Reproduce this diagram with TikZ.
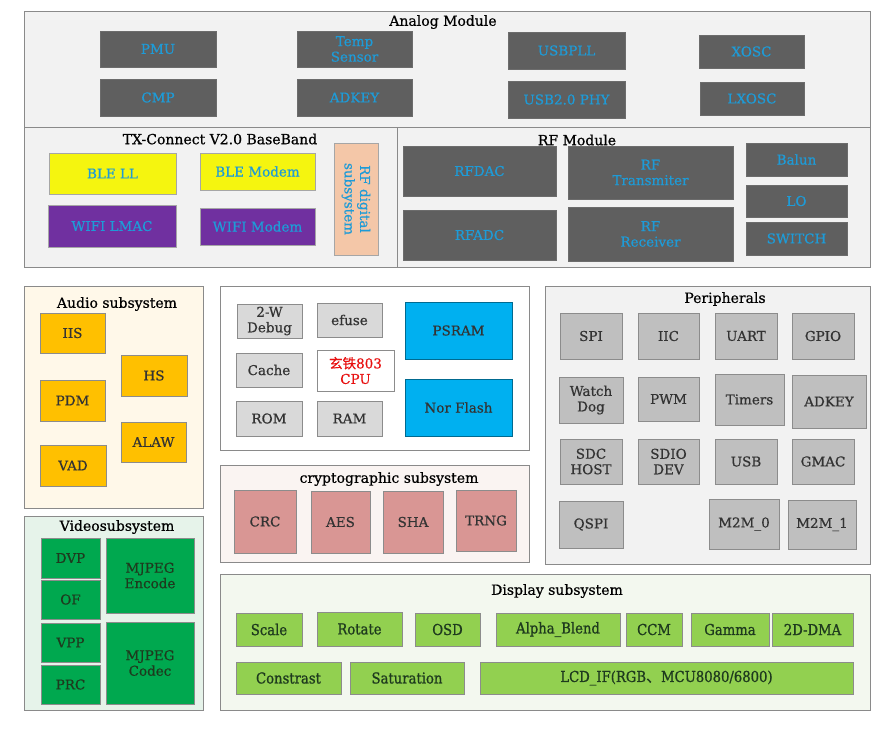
\documentclass[tikz,border=0pt]{standalone}
\usepackage{fontspec}
\setmainfont[FakeBold=0.6]{DejaVu Serif}
\newfontfamily\cjk[FakeBold=0.4]{Noto Sans CJK SC}
\newfontfamily\dispfont[FakeStretch=0.88,FakeBold=1.0]{DejaVu Serif}
\definecolor{obg}{HTML}{F2F2F2}
\definecolor{oline}{HTML}{8A8A8A}
\definecolor{darkbox}{HTML}{5F5F5F}
\definecolor{cyantext}{HTML}{1E9BD7}
\definecolor{bleyel}{HTML}{F5F50F}
\definecolor{wifipur}{HTML}{7030A0}
\definecolor{peach}{HTML}{F4C7A8}
\definecolor{audiobg}{HTML}{FFF8E9}
\definecolor{audiobox}{HTML}{FFC000}
\definecolor{lgray}{HTML}{D9D9D9}
\definecolor{mgray}{HTML}{BFBFBF}
\definecolor{blue1}{HTML}{00B0F0}
\definecolor{cryptobg}{HTML}{FAF4F2}
\definecolor{cryptobox}{HTML}{D99694}
\definecolor{videobg}{HTML}{E6F3EA}
\definecolor{videobox}{HTML}{00A84F}
\definecolor{dispbg}{HTML}{F3F8EF}
\definecolor{dispbox}{HTML}{92D050}
\definecolor{txt}{HTML}{333333}
\definecolor{dgreen}{HTML}{1E3A1E}
\definecolor{cpured}{HTML}{E81010}
\newcommand\bx[7]{\node[#2,minimum width={(#5-#3)*1pt},minimum height={(#6-#4)*1pt}] (#1) at ({(#3+#5)/2},{(#4+#6)/2}) {#7};}
\tikzset{
  base/.style={inner sep=0pt, align=center, line width=0.8pt, font=\fontsize{13.5}{15.5}\selectfont},
  outer/.style={base, draw=oline, line width=1pt, fill=obg},
  title/.style={inner sep=0pt, text=black, font=\fontsize{14}{16}\selectfont},
  dark/.style={base, draw=gray!85!black, fill=darkbox, text=cyantext},
  ble/.style={base, draw=gray!70, fill=bleyel, text=cyantext},
  wifi/.style={base, draw=gray!70, fill=wifipur, text=cyantext},
  rfd/.style={base, draw=gray!70, fill=peach, text=cyantext},
  audio/.style={base, draw=gray!90, fill=audiobox, text=txt},
  sgray/.style={base, draw=gray!90, fill=lgray, text=txt},
  blu/.style={base, draw=blue1!60!black, fill=blue1, text=txt},
  cpubox/.style={base, draw=gray!90, fill=white, text=cpured},
  crypto/.style={base, draw=gray!90, fill=cryptobox, text=txt},
  periph/.style={base, draw=gray!90, fill=mgray, text=txt},
  video/.style={base, draw=gray!90, fill=videobox, text=dgreen},
  disp/.style={base, draw=gray!90, fill=dispbox, text=dgreen, font=\dispfont\fontsize{15}{17}\selectfont},
}
\begin{document}
\begin{tikzpicture}[x=1pt,y=-1pt]
\useasboundingbox[fill=white] (0,0) rectangle (895,730);
% Analog module
\bx{analog}{outer}{24}{12}{870}{128}{}
\node[title] (analogT) at (443,22) {Analog Module};
\bx{pmu}{dark}{100}{31}{216}{67}{PMU}
\bx{temp}{dark}{297}{31}{412}{67}{Temp\\Sensor}
\bx{cmp}{dark}{100}{79}{216}{116}{CMP}
\bx{adkeyA}{dark}{297}{79}{412}{116}{ADKEY}
\bx{usbpll}{dark}{508}{32}{625}{69}{USBPLL}
\bx{usbphy}{dark}{508}{81}{625}{118}{USB2.0 PHY}
\bx{xosc}{dark}{699}{35}{804}{68}{XOSC}
\bx{lxosc}{dark}{700}{82}{804}{115}{LXOSC}
% TX-Connect
\bx{tx}{outer}{24}{128}{397}{268}{}
\node[title] (txT) at (220,139) {TX-Connect V2.0 BaseBand};
\bx{blell}{ble}{49}{153}{176}{194}{BLE LL}
\bx{blemodem}{ble}{200}{153}{315}{190}{BLE Modem}
\bx{wifilmac}{wifi}{48}{205}{176}{247}{WIFI LMAC}
\bx{wifimodem}{wifi}{200}{208}{315}{245}{WIFI Modem}
\node[rfd, rotate=-90, minimum width=112pt, minimum height=44pt] (rfdig) at (356,199) {RF digital\\subsystem};
% RF module
\bx{rf}{outer}{397}{128}{870}{268}{}
\bx{rfdac}{dark}{403}{146}{556}{196}{RFDAC}
\bx{rftx}{dark}{568}{146}{733}{199}{RF\\Transmiter}
\bx{balun}{dark}{746}{143}{847}{176}{Balun}
\bx{lo}{dark}{746}{185}{847}{217}{LO}
\bx{switch}{dark}{746}{222}{847}{255}{SWITCH}
\bx{rfadc}{dark}{403}{210}{556}{260}{RFADC}
\bx{rfrx}{dark}{568}{207}{733}{261}{RF\\Receiver}
\node[title] (rfT) at (577,140) {RF Module};
% Audio
\bx{audioO}{outer,fill=audiobg}{24}{287}{203}{508}{}
\node[title] (audioT) at (117,304) {Audio subsystem};
\bx{iis}{audio}{40}{313}{105}{353}{IIS}
\bx{hs}{audio}{121}{355}{187}{396}{HS}
\bx{pdm}{audio}{40}{380}{105}{421}{PDM}
\bx{alaw}{audio}{121}{422}{186}{462}{ALAW}
\bx{vad}{audio}{40}{445}{106}{486}{VAD}
% CPU
\bx{cpuO}{outer,fill=white}{220}{287}{529}{450}{}
\bx{dbg}{sgray}{237}{304}{302}{338}{2-W\\Debug}
\bx{efuse}{sgray}{317}{303}{382}{337}{efuse}
\bx{psram}{blu}{405}{302}{512}{359}{PSRAM}
\bx{cache}{sgray}{236}{353}{302}{387}{Cache}
\bx{cpu}{cpubox}{317}{350}{394}{391}{{\cjk 玄铁}803\\CPU}
\bx{norflash}{blu}{405}{379}{512}{436}{Nor Flash}
\bx{rom}{sgray}{236}{401}{302}{436}{ROM}
\bx{ram}{sgray}{317}{401}{382}{436}{RAM}
% Crypto
\bx{cryptoO}{outer,fill=cryptobg}{220}{465}{529}{562}{}
\node[title] (cryptoT) at (389,479) {cryptographic subsystem};
\bx{crc}{crypto}{234}{490}{296}{553}{CRC}
\bx{aes}{crypto}{311}{491}{370}{553}{AES}
\bx{sha}{crypto}{383}{491}{443}{553}{SHA}
\bx{trng}{crypto}{456}{490}{516}{551}{TRNG}
% Peripherals
\bx{periphO}{outer}{545}{287}{870}{564}{}
\node[title] (periphT) at (725,299) {Peripherals};
\bx{spi}{periph}{560}{313}{622}{359}{SPI}
\bx{iic}{periph}{638}{313}{699}{359}{IIC}
\bx{uart}{periph}{715}{313}{777}{359}{UART}
\bx{gpio}{periph}{792}{313}{854}{359}{GPIO}
\bx{watchdog}{periph}{559}{377}{623}{423}{Watch\\Dog}
\bx{pwm}{periph}{638}{377}{699}{421}{PWM}
\bx{timers}{periph}{715}{374}{784}{425}{Timers}
\bx{adkeyP}{periph}{792}{375}{866}{428}{ADKEY}
\bx{sdchost}{periph}{560}{439}{622}{484}{SDC\\HOST}
\bx{sdiodev}{periph}{638}{439}{699}{484}{SDIO\\DEV}
\bx{usb}{periph}{715}{439}{777}{484}{USB}
\bx{gmac}{periph}{792}{439}{854}{484}{GMAC}
\bx{qspi}{periph}{559}{501}{623}{548}{QSPI}
\bx{mm0}{periph}{709}{499}{779}{549}{M2M\_0}
\bx{mm1}{periph}{788}{500}{856}{549}{M2M\_1}
% Video
\bx{videoO}{outer,fill=videobg}{24}{516}{203}{710}{}
\node[title] (videoT) at (117,527) {Videosubsystem};
\bx{dvp}{video}{41}{538}{100}{578}{DVP}
\bx{of}{video}{41}{580}{100}{619}{OF}
\bx{vpp}{video}{41}{623}{100}{662}{VPP}
\bx{prc}{video}{41}{665}{100}{704}{PRC}
\bx{mjenc}{video}{106}{538}{194}{613}{MJPEG\\Encode}
\bx{mjcod}{video}{106}{622}{194}{704}{MJPEG\\Codec}
% Display
\bx{dispO}{outer,fill=dispbg}{220}{574}{870}{710}{}
\node[title] (dispT) at (557,591) {Display subsystem};
\bx{scale}{disp}{236}{613}{302}{646}{Scale}
\bx{rotate}{disp}{317}{612}{402}{646}{Rotate}
\bx{osd}{disp}{415}{613}{480}{646}{OSD}
\bx{alpha}{disp}{496}{613}{620}{646}{Alpha\_Blend}
\bx{ccm}{disp}{626}{613}{682}{646}{CCM}
\bx{gamma}{disp}{691}{613}{769}{646}{Gamma}
\bx{dma}{disp}{772}{613}{853}{646}{2D-DMA}
\bx{constrast}{disp}{236}{662}{341}{694}{Constrast}
\bx{saturation}{disp}{350}{662}{464}{694}{Saturation}
\bx{lcd}{disp}{480}{662}{853}{694}{LCD\_IF(RGB{\cjk 、}MCU8080/6800)}
\end{tikzpicture}
\end{document}
